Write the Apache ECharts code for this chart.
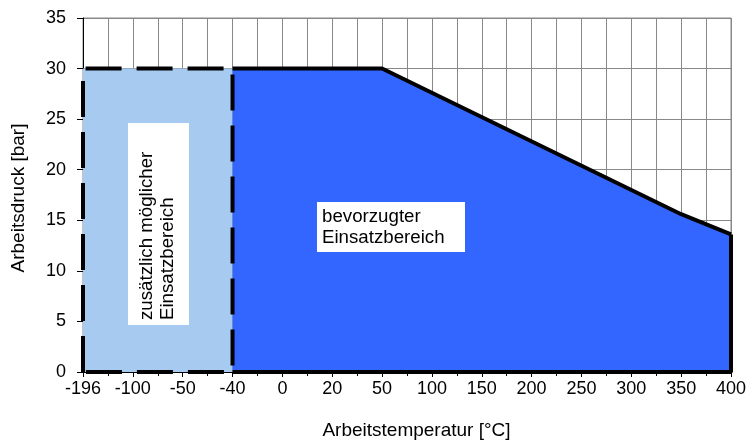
<!DOCTYPE html>
<html>
	<head>
		<meta charset="UTF-8">
		<title>Arbeitsdruck / Arbeitstemperatur</title>
		<script type="text/javascript" src="https://cdn.jsdelivr.net/npm/echarts@6/dist/echarts.min.js"></script>
		<style>
			html, body { margin: 0; padding: 0; background: #fff; }
			#chart { width: 747px; height: 442px; }
		</style>
	</head>
	<body>
		<div id="chart"></div>
		<script>
		// Achsenbeschriftung (gleichmaessig verteilt, nicht linear)
		var tempLabels = ['-196', '-100', '-50', '-40', '0', '20', '50', '100', '150', '200', '250', '300', '350', '400'];

		// zusaetzlich moeglicher Bereich (-196 .. -40 °C)
		var extraX = [0, 3];
		var extraY = [30, 30];
		var extraBorderX = [0, 0, 3, 3, 0];
		var extraBorderY = [0, 30, 30, 0, 0];

		// bevorzugter Bereich (-40 .. 400 °C)
		var prefX = [3, 6, 12, 13];
		var prefY = [30, 30, 15.6, 13.6];
		var prefEdgeX = [13, 13, 3];
		var prefEdgeY = [13.6, 0, 0];

		function zip(xs, ys) {
			return xs.map(function (x, i) { return [x, ys[i]]; });
		}

		var font = '"Liberation Sans", Arial, sans-serif';
		var myChart = echarts.init(document.getElementById('chart'));

		var option = {
			animation: false,
			backgroundColor: '#fff',
			textStyle: { fontFamily: font },
			grid: {
				left: 83,
				right: 16,
				top: 18,
				bottom: 70,
				outerBoundsMode: 'none',
				containLabel: false,
				show: true,
				borderColor: '#888',
				borderWidth: 1
			},
			xAxis: {
				type: 'value',
				min: 0,
				max: 13,
				interval: 1,
				name: 'Arbeitstemperatur [°C]',
				nameLocation: 'middle',
				nameGap: 49,
				nameTextStyle: { fontSize: 19, color: '#000', fontFamily: font, padding: [0, 0, 0, 19] },
				axisLine: { show: true, onZero: false, lineStyle: { color: '#000', width: 1 } },
				axisTick: { show: true, length: 5, lineStyle: { color: '#000' } },
				minorTick: { show: true, splitNumber: 2, length: 4, lineStyle: { color: '#000' } },
				axisLabel: {
					fontSize: 18,
					color: '#000',
					margin: 8,
					fontFamily: font,
					formatter: function (v) { return tempLabels[Math.round(v)]; }
				},
				splitLine: { show: true, lineStyle: { color: '#888', width: 1 } },
				minorSplitLine: { show: true, lineStyle: { color: '#888', width: 1 } }
			},
			yAxis: {
				type: 'value',
				min: 0,
				max: 35,
				interval: 5,
				name: 'Arbeitsdruck [bar]',
				nameLocation: 'middle',
				nameGap: 55,
				nameTextStyle: { fontSize: 19, color: '#000', fontFamily: font, padding: [0, 6, 0, 0] },
				axisLine: { show: true, lineStyle: { color: '#000', width: 1 } },
				axisTick: { show: true, length: 6, lineStyle: { color: '#000' } },
				axisLabel: { fontSize: 18, color: '#000', margin: 17, fontFamily: font },
				splitLine: { show: true, lineStyle: { color: '#888', width: 1 } }
			},
			series: [
				{
					// hellblaue Flaeche
					type: 'line',
					showSymbol: false,
					z: 2,
					lineStyle: { width: 0 },
					areaStyle: { color: '#A6CAF0', opacity: 1 },
					data: zip(extraX, extraY)
				},
				{
					// blaue Flaeche mit oberer Kante
					type: 'line',
					showSymbol: false,
					z: 3,
					lineStyle: { color: '#000', width: 4 },
					areaStyle: { color: '#3366FF', opacity: 1 },
					data: zip(prefX, prefY)
				},
				{
					// rechte und untere Kante
					type: 'line',
					showSymbol: false,
					z: 4,
					lineStyle: { color: '#000', width: 4 },
					data: zip(prefEdgeX, prefEdgeY)
				},
				{
					// gestrichelter Rahmen
					type: 'line',
					showSymbol: false,
					z: 5,
					lineStyle: { color: '#000', width: 4, type: [36, 15] },
					data: zip(extraBorderX, extraBorderY)
				}
			],
			graphic: [
				{
					type: 'rect',
					z: 100,
					shape: { x: 128, y: 123, width: 61, height: 202 },
					style: { fill: '#fff' }
				},
				{
					type: 'text',
					z: 101,
					x: 157,
					y: 320,
					rotation: Math.PI / 2,
					style: {
						text: 'zusätzlich möglicher\nEinsatzbereich',
						font: '18.7px ' + font,
						fill: '#000',
						align: 'left',
						verticalAlign: 'middle',
						lineHeight: 21
					}
				},
				{
					type: 'rect',
					z: 100,
					shape: { x: 317, y: 202, width: 148, height: 50 },
					style: { fill: '#fff' }
				},
				{
					type: 'text',
					z: 101,
					x: 322,
					y: 227,
					style: {
						text: 'bevorzugter\nEinsatzbereich',
						font: '18.7px ' + font,
						fill: '#000',
						align: 'left',
						verticalAlign: 'middle',
						lineHeight: 21
					}
				}
			]
		};

		myChart.setOption(option);
		</script>
	</body>
</html>
